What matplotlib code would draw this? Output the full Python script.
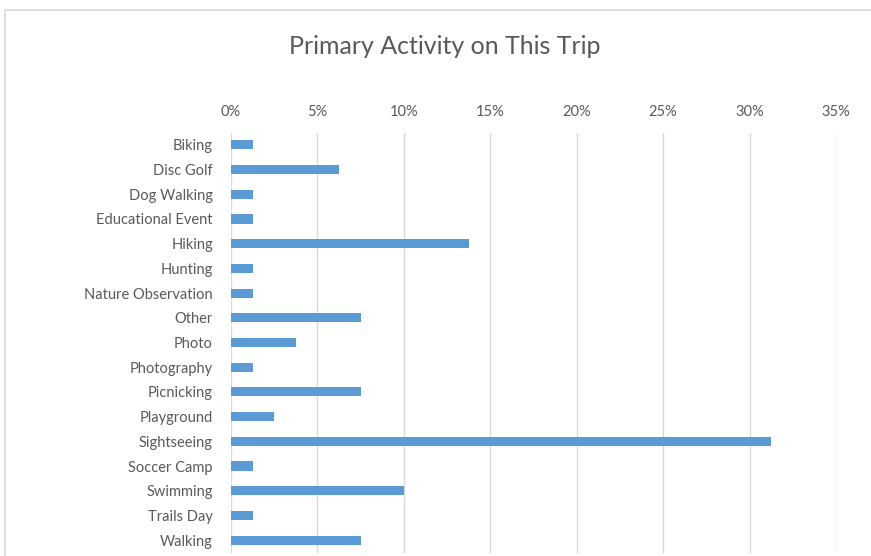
import matplotlib
matplotlib.use("Agg")
import matplotlib.pyplot as plt
from matplotlib.patches import Rectangle
from matplotlib.ticker import FuncFormatter

categories = ["Biking", "Disc Golf", "Dog Walking", "Educational Event", "Hiking",
              "Hunting", "Nature Observation", "Other", "Photo", "Photography",
              "Picnicking", "Playground", "Sightseeing", "Soccer Camp", "Swimming",
              "Trails Day", "Walking"]
values = [1.25, 6.25, 1.25, 1.25, 13.75, 1.25, 1.25, 7.5, 3.75, 1.25,
          7.5, 2.5, 31.25, 1.25, 10.0, 1.25, 7.5]
xticks = [0, 5, 10, 15, 20, 25, 30, 35]
title = "Primary Activity on This Trip"

plt.rcParams['font.family'] = ['Lato', 'DejaVu Sans']
W, H = 871, 556
fig = plt.figure(figsize=(W / 100, H / 100), dpi=100)
fig.patch.set_facecolor("white")

# outer chart frame (partially cropped)
fig.add_artist(Rectangle((5 / W, -0.1), 1.2, 1 - 10 / H + 0.1, transform=fig.transFigure,
                         fill=False, edgecolor="#d9d9d9", linewidth=1.2))

ax = fig.add_axes([231 / W, 1 - 552.5 / H, (836 - 231) / W, (552.5 - 132.5) / H])
y = list(range(len(categories)))
ax.barh(y, values, height=0.37, color="#5B9BD5", zorder=3)
ax.set_ylim(len(categories) - 0.5, -0.5)
ax.set_xlim(0, 35)
ax.set_xticks(xticks)
ax.xaxis.set_major_formatter(FuncFormatter(lambda v, p: f"{v:.0f}%"))
ax.xaxis.tick_top()
ax.set_yticks(y)
ax.set_yticklabels(categories)
ax.tick_params(axis="both", length=0, colors="#595959", labelsize=10.5)
ax.tick_params(axis="x", pad=10)
ax.tick_params(axis="y", pad=13)
for s in ax.spines.values():
    s.set_visible(False)
ax.grid(axis="x", color="#d9d9d9", linewidth=1, zorder=0)
ax.set_facecolor("white")

fig.text(445 / W, 1 - 46 / H, title, ha="center", va="center", fontsize=18, color="#595959")

fig.savefig("out.png", dpi=100, facecolor="white")
